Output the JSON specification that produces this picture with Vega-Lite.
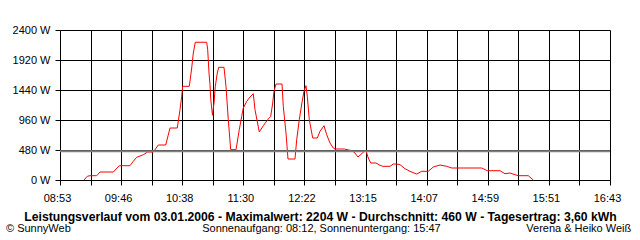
{
  "$schema": "https://vega.github.io/schema/vega-lite/v6.json",
  "width": 550,
  "height": 150,
  "autosize": "none",
  "padding": {"left": 60, "top": 30, "right": 30, "bottom": 60},
  "background": "white",
  "config": {"view": {"stroke": null}, "font": "Liberation Sans"},
  "title": {
    "text": "© SunnyWeb\u00a0\u00a0\u00a0\u00a0\u00a0\u00a0\u00a0\u00a0\u00a0\u00a0\u00a0\u00a0\u00a0\u00a0\u00a0\u00a0\u00a0\u00a0\u00a0\u00a0\u00a0\u00a0\u00a0\u00a0\u00a0\u00a0\u00a0\u00a0\u00a0\u00a0\u00a0\u00a0\u00a0\u00a0\u00a0\u00a0\u00a0\u00a0\u00a0\u00a0\u00a0\u00a0\u00a0Sonnenaufgang: 08:12, Sonnenuntergang: 15:47\u00a0\u00a0\u00a0\u00a0\u00a0\u00a0\u00a0\u00a0\u00a0\u00a0\u00a0\u00a0\u00a0\u00a0\u00a0\u00a0\u00a0\u00a0\u00a0\u00a0\u00a0\u00a0\u00a0\u00a0\u00a0\u00a0\u00a0\u00a0Verena & Heiko Weiß",
    "orient": "bottom",
    "anchor": "start",
    "frame": "group",
    "dx": -54,
    "offset": 10,
    "fontSize": 11,
    "fontWeight": "normal",
    "font": "Liberation Sans",
    "color": "#000000",
    "baseline": "alphabetic"
  },
  "layer": [
    {
      "data": {
        "values": [
          {"t": "2006-01-03T09:13:58", "w": 0},
          {"t": "2006-01-03T09:16:47", "w": 59},
          {"t": "2006-01-03T09:19:05", "w": 69},
          {"t": "2006-01-03T09:24:49", "w": 69},
          {"t": "2006-01-03T09:27:38", "w": 128},
          {"t": "2006-01-03T09:39:00", "w": 128},
          {"t": "2006-01-03T09:44:08", "w": 229},
          {"t": "2006-01-03T09:53:16", "w": 229},
          {"t": "2006-01-03T09:56:05", "w": 299},
          {"t": "2006-01-03T09:59:00", "w": 363},
          {"t": "2006-01-03T10:04:38", "w": 405},
          {"t": "2006-01-03T10:08:24", "w": 448},
          {"t": "2006-01-03T10:13:11", "w": 448},
          {"t": "2006-01-03T10:17:27", "w": 560},
          {"t": "2006-01-03T10:23:47", "w": 560},
          {"t": "2006-01-03T10:27:27", "w": 832},
          {"t": "2006-01-03T10:33:41", "w": 832},
          {"t": "2006-01-03T10:36:00", "w": 1125},
          {"t": "2006-01-03T10:37:27", "w": 1339},
          {"t": "2006-01-03T10:38:18", "w": 1499},
          {"t": "2006-01-03T10:43:57", "w": 1499},
          {"t": "2006-01-03T10:46:00", "w": 1792},
          {"t": "2006-01-03T10:47:22", "w": 2032},
          {"t": "2006-01-03T10:49:04", "w": 2204},
          {"t": "2006-01-03T10:58:49", "w": 2204},
          {"t": "2006-01-03T10:59:40", "w": 2085},
          {"t": "2006-01-03T11:00:47", "w": 1712},
          {"t": "2006-01-03T11:01:38", "w": 1525},
          {"t": "2006-01-03T11:02:14", "w": 1300},
          {"t": "2006-01-03T11:03:46", "w": 1035},
          {"t": "2006-01-03T11:05:03", "w": 1232},
          {"t": "2006-01-03T11:06:10", "w": 1499},
          {"t": "2006-01-03T11:07:52", "w": 1712},
          {"t": "2006-01-03T11:09:04", "w": 1803},
          {"t": "2006-01-03T11:13:36", "w": 1803},
          {"t": "2006-01-03T11:15:18", "w": 1499},
          {"t": "2006-01-03T11:17:16", "w": 965},
          {"t": "2006-01-03T11:19:19", "w": 485},
          {"t": "2006-01-03T11:23:51", "w": 485},
          {"t": "2006-01-03T11:26:40", "w": 805},
          {"t": "2006-01-03T11:28:43", "w": 1019},
          {"t": "2006-01-03T11:30:05", "w": 1152},
          {"t": "2006-01-03T11:33:00", "w": 1259},
          {"t": "2006-01-03T11:35:49", "w": 1328},
          {"t": "2006-01-03T11:38:38", "w": 1381},
          {"t": "2006-01-03T11:40:05", "w": 1125},
          {"t": "2006-01-03T11:43:46", "w": 768},
          {"t": "2006-01-03T11:47:11", "w": 869},
          {"t": "2006-01-03T11:51:27", "w": 976},
          {"t": "2006-01-03T11:53:30", "w": 1019},
          {"t": "2006-01-03T11:55:13", "w": 1232},
          {"t": "2006-01-03T11:56:19", "w": 1419},
          {"t": "2006-01-03T11:58:02", "w": 1536},
          {"t": "2006-01-03T12:03:10", "w": 1536},
          {"t": "2006-01-03T12:04:16", "w": 1179},
          {"t": "2006-01-03T12:06:35", "w": 752},
          {"t": "2006-01-03T12:08:17", "w": 336},
          {"t": "2006-01-03T12:14:16", "w": 336},
          {"t": "2006-01-03T12:15:43", "w": 645},
          {"t": "2006-01-03T12:17:57", "w": 965},
          {"t": "2006-01-03T12:20:15", "w": 1243},
          {"t": "2006-01-03T12:21:58", "w": 1419},
          {"t": "2006-01-03T12:23:40", "w": 1509},
          {"t": "2006-01-03T12:24:47", "w": 1339},
          {"t": "2006-01-03T12:26:29", "w": 965},
          {"t": "2006-01-03T12:29:24", "w": 672},
          {"t": "2006-01-03T12:33:20", "w": 672},
          {"t": "2006-01-03T12:35:38", "w": 779},
          {"t": "2006-01-03T12:39:03", "w": 869},
          {"t": "2006-01-03T12:41:21", "w": 725},
          {"t": "2006-01-03T12:44:11", "w": 592},
          {"t": "2006-01-03T12:47:00", "w": 512},
          {"t": "2006-01-03T12:48:27", "w": 496},
          {"t": "2006-01-03T12:56:24", "w": 496},
          {"t": "2006-01-03T13:02:43", "w": 469},
          {"t": "2006-01-03T13:04:41", "w": 448},
          {"t": "2006-01-03T13:08:06", "w": 368},
          {"t": "2006-01-03T13:12:38", "w": 443},
          {"t": "2006-01-03T13:14:56", "w": 469},
          {"t": "2006-01-03T13:16:54", "w": 352},
          {"t": "2006-01-03T13:18:57", "w": 272},
          {"t": "2006-01-03T13:23:29", "w": 272},
          {"t": "2006-01-03T13:26:54", "w": 235},
          {"t": "2006-01-03T13:29:13", "w": 219},
          {"t": "2006-01-03T13:35:27", "w": 219},
          {"t": "2006-01-03T13:38:16", "w": 256},
          {"t": "2006-01-03T13:41:11", "w": 256},
          {"t": "2006-01-03T13:44:00", "w": 245},
          {"t": "2006-01-03T13:48:16", "w": 181},
          {"t": "2006-01-03T13:52:32", "w": 139},
          {"t": "2006-01-03T13:58:16", "w": 96},
          {"t": "2006-01-03T14:02:32", "w": 139},
          {"t": "2006-01-03T14:08:11", "w": 139},
          {"t": "2006-01-03T14:12:27", "w": 208},
          {"t": "2006-01-03T14:18:11", "w": 240},
          {"t": "2006-01-03T14:23:54", "w": 219},
          {"t": "2006-01-03T14:28:11", "w": 192},
          {"t": "2006-01-03T14:53:49", "w": 192},
          {"t": "2006-01-03T14:58:36", "w": 149},
          {"t": "2006-01-03T15:09:27", "w": 149},
          {"t": "2006-01-03T15:13:43", "w": 101},
          {"t": "2006-01-03T15:18:00", "w": 112},
          {"t": "2006-01-03T15:22:16", "w": 85},
          {"t": "2006-01-03T15:25:05", "w": 69},
          {"t": "2006-01-03T15:33:38", "w": 69},
          {"t": "2006-01-03T15:37:54", "w": 0}
        ]
      },
      "mark": {"type": "line", "color": "#ff0000", "strokeWidth": 1},
      "encoding": {
        "x": {
          "field": "t",
          "type": "temporal",
          "scale": {
            "domain": [
              {"year": 2006, "month": 1, "date": 3, "hours": 8, "minutes": 53, "seconds": 27},
              {"year": 2006, "month": 1, "date": 3, "hours": 16, "minutes": 43, "seconds": 27}
            ],
            "nice": false
          },
          "axis": {
            "values": [
              {"year": 2006, "month": 1, "date": 3, "hours": 8, "minutes": 53, "seconds": 27, "milliseconds": 0},
              {"year": 2006, "month": 1, "date": 3, "hours": 9, "minutes": 19, "seconds": 33, "milliseconds": 667},
              {"year": 2006, "month": 1, "date": 3, "hours": 9, "minutes": 45, "seconds": 40, "milliseconds": 333},
              {"year": 2006, "month": 1, "date": 3, "hours": 10, "minutes": 11, "seconds": 47, "milliseconds": 0},
              {"year": 2006, "month": 1, "date": 3, "hours": 10, "minutes": 37, "seconds": 53, "milliseconds": 667},
              {"year": 2006, "month": 1, "date": 3, "hours": 11, "minutes": 4, "seconds": 0, "milliseconds": 333},
              {"year": 2006, "month": 1, "date": 3, "hours": 11, "minutes": 30, "seconds": 7, "milliseconds": 0},
              {"year": 2006, "month": 1, "date": 3, "hours": 11, "minutes": 56, "seconds": 13, "milliseconds": 667},
              {"year": 2006, "month": 1, "date": 3, "hours": 12, "minutes": 22, "seconds": 20, "milliseconds": 333},
              {"year": 2006, "month": 1, "date": 3, "hours": 12, "minutes": 48, "seconds": 27, "milliseconds": 0},
              {"year": 2006, "month": 1, "date": 3, "hours": 13, "minutes": 14, "seconds": 33, "milliseconds": 667},
              {"year": 2006, "month": 1, "date": 3, "hours": 13, "minutes": 40, "seconds": 40, "milliseconds": 333},
              {"year": 2006, "month": 1, "date": 3, "hours": 14, "minutes": 6, "seconds": 47, "milliseconds": 0},
              {"year": 2006, "month": 1, "date": 3, "hours": 14, "minutes": 32, "seconds": 53, "milliseconds": 667},
              {"year": 2006, "month": 1, "date": 3, "hours": 14, "minutes": 59, "seconds": 0, "milliseconds": 333},
              {"year": 2006, "month": 1, "date": 3, "hours": 15, "minutes": 25, "seconds": 7, "milliseconds": 0},
              {"year": 2006, "month": 1, "date": 3, "hours": 15, "minutes": 51, "seconds": 13, "milliseconds": 667},
              {"year": 2006, "month": 1, "date": 3, "hours": 16, "minutes": 17, "seconds": 20, "milliseconds": 333},
              {"year": 2006, "month": 1, "date": 3, "hours": 16, "minutes": 43, "seconds": 27, "milliseconds": 0}
            ],
            "tickCount": 19,
            "grid": true,
            "gridColor": "#000000",
            "gridOpacity": 1,
            "gridWidth": 1,
            "domainColor": "#000000",
            "domainWidth": 1,
            "tickColor": "#000000",
            "tickSize": 5,
            "tickWidth": 1,
            "labelExpr": "round((toNumber(datum.value) - toNumber(datetime(2006, 0, 3, 8, 53, 27))) / 1566666.667) % 2 == 0 ? timeFormat(toNumber(datum.value) + 30000, '%H:%M') : ''",
            "labelFont": "'Liberation Sans Narrow', 'Liberation Sans', sans-serif",
            "labelFontSize": 11,
            "labelColor": "#000000",
            "labelPadding": 7,
            "labelOffset": -3,
            "labelOverlap": false,
            "labelFlush": false,
            "labelBound": false,
            "title": "Leistungsverlauf vom 03.01.2006 - Maximalwert: 2204 W - Durchschnitt: 460 W - Tagesertrag: 3,60 kWh",
            "titleFont": "Liberation Sans",
            "titleFontSize": 12.2,
            "titleFontWeight": "bold",
            "titleColor": "#000000",
            "titleX": 260,
            "titleY": 40,
            "titleAlign": "center",
            "titleBaseline": "alphabetic"
          }
        },
        "y": {
          "field": "w",
          "type": "quantitative",
          "scale": {"domain": [0, 2400], "nice": false, "zero": true},
          "axis": {
            "values": [0, 480, 960, 1440, 1920, 2400],
            "tickCount": 6,
            "grid": true,
            "gridColor": "#000000",
            "gridOpacity": 1,
            "gridWidth": 1,
            "domainColor": "#000000",
            "tickColor": "#000000",
            "tickSize": 5,
            "labelExpr": "datum.value + ' W'",
            "labelFont": "Liberation Sans",
            "labelFontSize": 11,
            "labelColor": "#000000",
            "labelPadding": 5,
            "labelOverlap": false,
            "labelFlush": false,
            "title": null
          }
        }
      }
    },
    {
      "data": {"values": [{"w": 460}]},
      "mark": {"type": "rule", "color": "#808080", "strokeWidth": 2},
      "encoding": {
        "y": {
          "field": "w",
          "type": "quantitative",
          "axis": {
            "values": [0, 480, 960, 1440, 1920, 2400],
            "tickCount": 6,
            "grid": true,
            "gridColor": "#000000",
            "gridOpacity": 1,
            "gridWidth": 1,
            "domainColor": "#000000",
            "tickColor": "#000000",
            "tickSize": 5,
            "labelExpr": "datum.value + ' W'",
            "labelFont": "Liberation Sans",
            "labelFontSize": 11,
            "labelColor": "#000000",
            "labelPadding": 5,
            "labelOverlap": false,
            "labelFlush": false,
            "title": null
          }
        }
      }
    }
  ]
}
